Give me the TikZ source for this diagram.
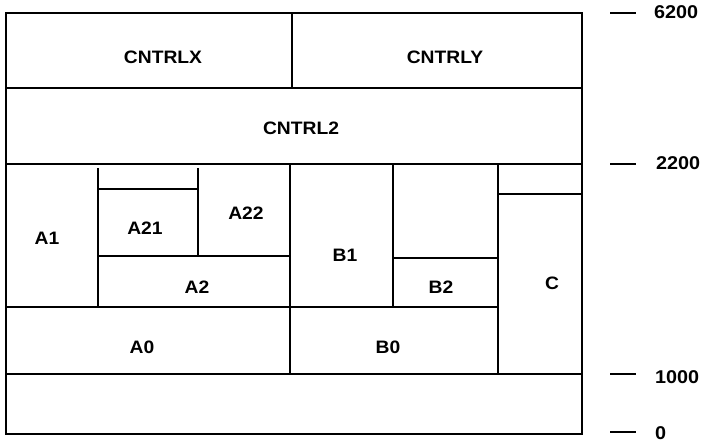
\documentclass[tikz,border=0pt]{standalone}
\usepackage{fontspec}
\setmainfont{Liberation Sans}
\newfontfamily\labfont[FakeStretch=1.07]{Liberation Sans}
\begin{document}
\begin{tikzpicture}[x=1pt,y=-1pt,
  wall/.style={line width=2.4pt,line cap=rect},
  tick/.style={line width=2.4pt},
  lab/.style={font=\labfont\fontsize{18}{20}\selectfont\bfseries,inner sep=0pt},
  num/.style={font=\labfont\fontsize{18.5}{20}\selectfont\bfseries,inner sep=0pt,anchor=west}]
\useasboundingbox (0,0) rectangle (704,443);
% outer frame
\draw[wall] (6,13) rectangle (582,434);
% horizontal bands
\draw[wall] (6,88) -- (582,88);
\draw[wall] (6,164) -- (582,164);
\draw[wall] (6,307) -- (498,307);
\draw[wall] (6,374) -- (582,374);
% top split
\draw[wall] (292,13) -- (292,88);
% A block
\draw[wall] (98,169) -- (98,307);
\draw[wall] (198,169) -- (198,256);
\draw[wall] (98,189) -- (198,189);
\draw[wall] (98,256) -- (290,256);
% B block
\draw[wall] (290,164) -- (290,374);
\draw[wall] (393,164) -- (393,307);
\draw[wall] (393,258) -- (498,258);
% C column
\draw[wall] (498,164) -- (498,374);
\draw[wall] (498,194) -- (582,194);
% labels
\node[lab] (cx)  at (163,57)  {CNTRLX};
\node[lab] (cy)  at (445,57)  {CNTRLY};
\node[lab] (c2)  at (301,128) {CNTRL2};
\node[lab] (a1)  at (47,238)  {A1};
\node[lab] (a21) at (145,228) {A21};
\node[lab] (a22) at (246,213) {A22};
\node[lab] (a2)  at (197,287) {A2};
\node[lab] (b1)  at (345,255) {B1};
\node[lab] (b2)  at (441,287) {B2};
\node[lab] (c)   at (552,283) {C};
\node[lab] (a0)  at (142,347) {A0};
\node[lab] (b0)  at (388,347) {B0};
% scale ticks
\draw[tick] (610,13) -- (636,13);
\draw[tick] (610,164) -- (636,164);
\draw[tick] (610,374) -- (636,374);
\draw[tick] (610,432) -- (636,432);
\node[num] (n6200) at (654,12)  {6200};
\node[num] (n2200) at (656,163) {2200};
\node[num] (n1000) at (655,377) {1000};
\node[num] (n0)    at (655,433) {0};
\end{tikzpicture}
\end{document}
